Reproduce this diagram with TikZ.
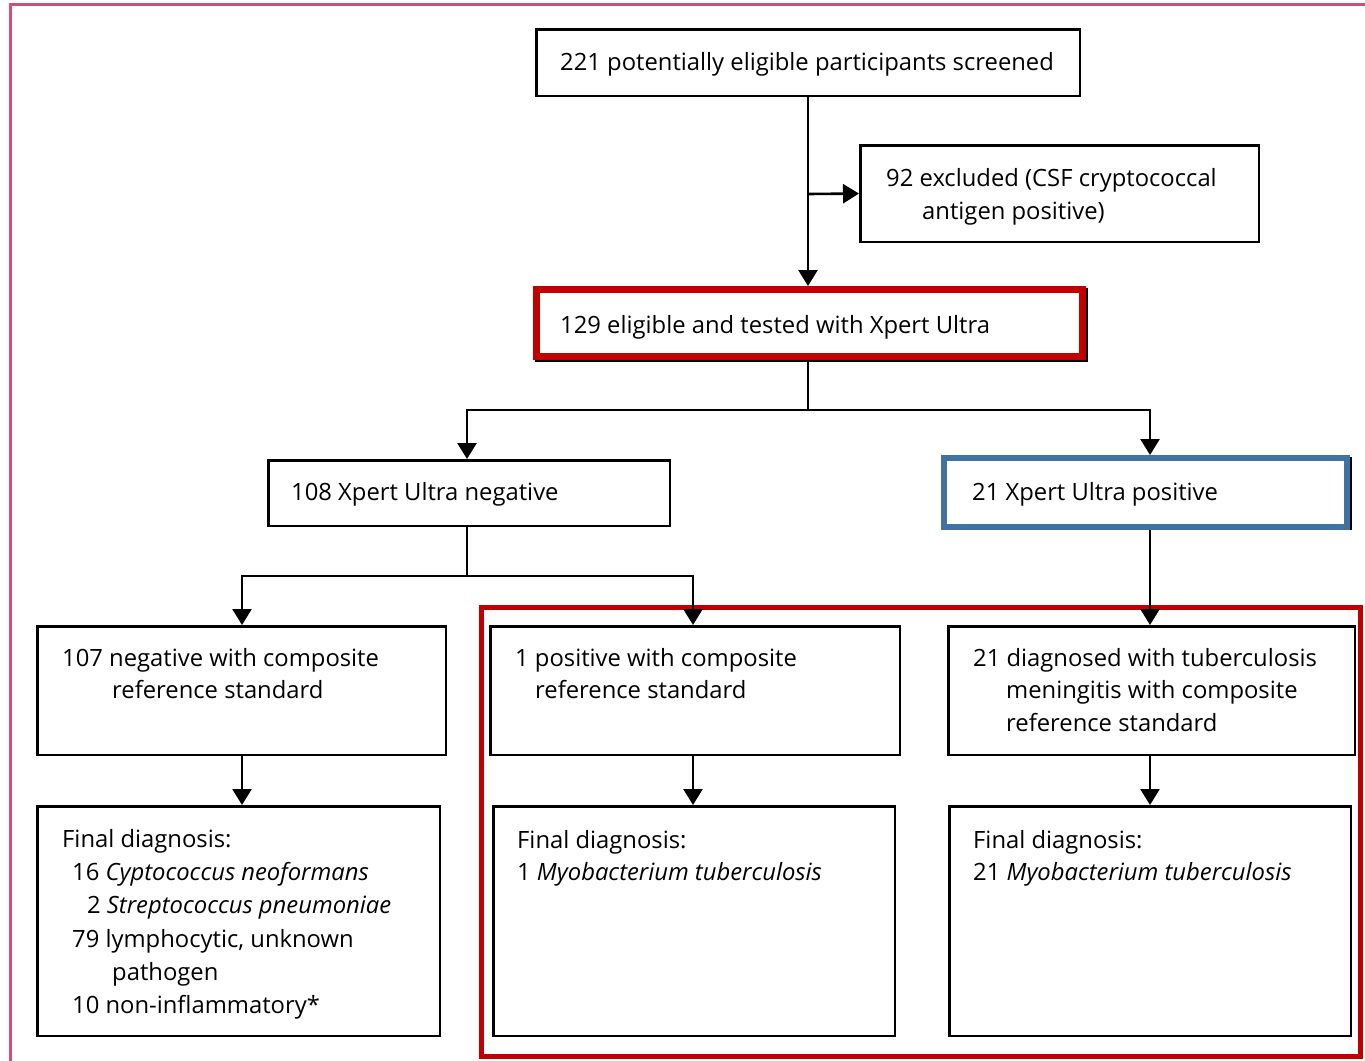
\documentclass[tikz,border=0pt]{standalone}
\usepackage{fontspec}
\setmainfont{Open Sans}
\usetikzlibrary{arrows.meta}
\definecolor{framepink}{RGB}{212,78,120}
\definecolor{boxred}{RGB}{192,0,0}
\definecolor{boxblue}{RGB}{65,113,158}
\tikzset{
  box/.style={draw=black, line width=2.6pt, fill=white, inner sep=0pt, anchor=north west},
  redbox/.style={draw=boxred, line width=7pt, fill=white, inner sep=0pt, anchor=north west},
  bluebox/.style={draw=boxblue, line width=6pt, fill=white, inner sep=0pt, anchor=north west},
  txt/.style={anchor=base west, inner sep=0pt, font=\fontsize{23.8}{32}\selectfont},
  conn/.style={draw=black, line width=2.6pt},
  arr/.style={conn, -{Triangle[length=16pt,width=19pt]}},
}
\begin{document}
\begin{tikzpicture}[x=1pt,y=-1pt]
\useasboundingbox (0,0) rectangle (1365,1060);
% outer pink frame
\draw[framepink, line width=3pt] (10,1062) -- (10,4) -- (1367,4);
% big red grouping frame
\draw[boxred, line width=5pt] (481,607.5) rectangle (1360.5,1056.5);

% boxes
\node[box, minimum width=543.5pt, minimum height=66.5pt] (A) at (535,28) {};
\node[box, minimum width=398.5pt, minimum height=96.5pt] (B) at (859,144) {};
\node[redbox, minimum width=546pt, minimum height=67pt] (C) at (533,286) {};
\draw[black, line width=1.6pt] ([xshift=2pt,yshift=-0.8pt]C.south west) -- ([xshift=0.8pt,yshift=-0.8pt]C.south east) -- ([xshift=0.8pt,yshift=-2pt]C.north east);
\node[box, minimum width=401.5pt, minimum height=65.5pt] (D) at (267,459) {};
\node[bluebox, minimum width=403pt, minimum height=69pt] (E) at (941,455) {};
\draw[black, line width=2.2pt] ([xshift=1.1pt,yshift=-2pt]E.north east) -- ([xshift=1.1pt]E.south east);
\node[box, minimum width=408.5pt, minimum height=128.5pt] (F) at (36,625) {};
\node[box, minimum width=409.5pt, minimum height=128.5pt] (G) at (489,625) {};
\node[box, minimum width=406.5pt, minimum height=128.5pt] (H) at (947,625) {};
\node[box, minimum width=402.5pt, minimum height=229.5pt] (I) at (36,805) {};
\node[box, minimum width=401.5pt, minimum height=229.5pt] (J) at (492,805) {};
\node[box, minimum width=401.5pt, minimum height=229.5pt] (K) at (948,805) {};

% texts
\node[txt] (tA) at (560,70) {221 potentially eligible participants screened};
\node[txt] (tB1) at (886,186) {92 excluded (CSF cryptococcal};
\node[txt] (tB2) at (922,219) {antigen positive)};
\node[txt] (tC) at (560,333) {129 eligible and tested with Xpert Ultra};
\node[txt] (tD) at (291,500) {108 Xpert Ultra negative};
\node[txt] (tE) at (972,500) {21 Xpert Ultra positive};
\node[txt] (tF1) at (62,666) {107 negative with composite};
\node[txt] (tF2) at (112,698) {reference standard};
\node[txt] (tG1) at (515,666) {1 positive with composite};
\node[txt] (tG2) at (535,698) {reference standard};
\node[txt] (tH1) at (973,666) {21 diagnosed with tuberculosis};
\node[txt] (tH2) at (1006,698.5) {meningitis with composite};
\node[txt] (tH3) at (1006,731) {reference standard};
\node[txt] (tI1) at (62,847) {Final diagnosis:};
\node[txt] (tI2) at (72,880) {16 \textit{Cyptococcus neoformans}};
\node[txt] (tI3) at (87,913) {2 \textit{Streptococcus pneumoniae}};
\node[txt] (tI4) at (72,947) {79 lymphocytic, unknown};
\node[txt] (tI5) at (112,980) {pathogen};
\node[txt] (tI6) at (72,1013) {10 non-inflammatory*};
\node[txt] (tJ1) at (517,848) {Final diagnosis:};
\node[txt] (tJ2) at (517,880) {1 \textit{Myobacterium tuberculosis}};
\node[txt] (tK1) at (973,848) {Final diagnosis:};
\node[txt] (tK2) at (973,880) {21 \textit{Myobacterium tuberculosis}};

% connectors
\coordinate (s0) at (808,194);
\coordinate (s1) at (808,410);
\coordinate (s2) at (467,576);
\coordinate (xr) at (1150,0);
\coordinate (xg) at (693,0);
\coordinate (xf) at (242,0);
\draw[arr] (A.south -| s0) -- (C.north -| s0);
\draw[arr] (s0) -- (B.west);
\draw[conn] (C.south -| s1) -- (s1);
\draw[arr] (s1) -| (D.north -| s2);
\draw[arr] (s1) -| (E.north -| xr);
\draw[conn] (D.south -| s2) -- (s2);
\draw[arr] (s2) -| (F.north -| xf);
\draw[arr] (s2) -| (G.north -| xg);
\draw[arr] (E.south -| xr) -- (H.north -| xr);
\draw[arr] (F.south -| xf) -- (I.north -| xf);
\draw[arr] (G.south -| xg) -- (J.north -| xg);
\draw[arr] (H.south -| xr) -- (K.north -| xr);
\end{tikzpicture}
\end{document}
